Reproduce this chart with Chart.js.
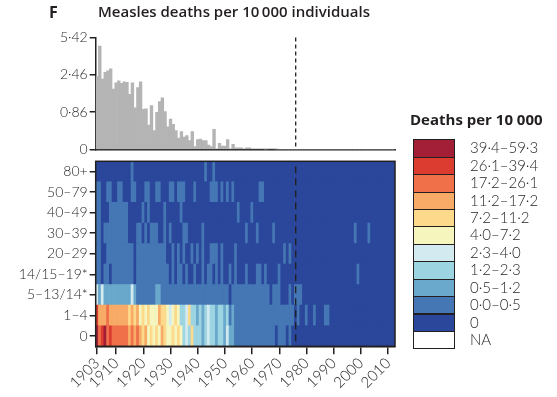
<!DOCTYPE html>
<html>
<head>
<meta charset="utf-8">
<script src="https://cdn.jsdelivr.net/npm/chart.js@4.4.0/dist/chart.umd.min.js"></script>
<style>
  body { margin: 0; width: 557px; height: 397px; background: #fff; position: relative; overflow: hidden; color: #231f20; }
  canvas { position: absolute; left: 0; }
  #top { top: 0; }
  #heat { top: 150px; }
  .panel { position: absolute; left: 49px; top: 1px; font: 700 16px "Open Sans"; }
  .title { position: absolute; left: 98px; top: 1px; font: 600 15px "Open Sans"; white-space: nowrap; }
  .ltitle { position: absolute; left: 410px; top: 109px; font: 700 15px "Open Sans"; white-space: nowrap; }
  .sw { position: absolute; left: 413px; width: 42px; height: 18.4px; box-sizing: border-box; border: 1px solid #231f20; }
  .lab { position: absolute; left: 470px; font: 300 15px Lato; line-height: 17px; white-space: nowrap; }
</style>
</head>
<body>
<canvas id="top" width="557" height="160"></canvas>
<canvas id="heat" width="557" height="247"></canvas>
<div class="panel">F</div>
<div class="title">Measles deaths per 10&#8201;000 individuals</div>
<div class="ltitle">Deaths per 10 000</div>
<div id="legend"></div>
<script>
// years 1903-2012, one column each
var years = [];
for (var y = 1903; y <= 2012; y++) years.push(String(y));
var xTickYears = [1903, 1910, 1920, 1930, 1940, 1950, 1960, 1970, 1980, 1990, 2000, 2010];
var vaccineYear = 1976;

// all ages, deaths per 10 000 (top panel)
var deathRate = [
  2.37, 4.58, 2.23, 2.60, 2.70, 2.83, 1.73, 2.03, 2.13, 2.00,
  2.08, 2.05, 1.50, 2.03, 1.00, 1.80, 2.08, 0.95, 0.97, 0.50,
  1.08, 0.37, 0.86, 1.22, 1.36, 0.88, 0.46, 0.66, 0.52, 0.37,
  0.21, 0.35, 0.23, 0.26, 0.16, 0.35, 0.05, 0.18, 0.19, 0.16,
  0.16, 0.08, 0.05, 0.40, 0.01, 0.11, 0.06, 0.06, 0.18, 0.01,
  0.09, 0.03, 0.03, 0.03, 0.01, 0.03, 0.03, 0.01, 0.01, 0.01,
  0.01, 0.01, 0.005, 0.01, 0.01, 0.01, 0.002, 0, 0, 0,
  0, 0, 0, 0, 0, 0, 0, 0, 0, 0,
  0, 0, 0, 0, 0, 0, 0, 0, 0, 0,
  0, 0, 0, 0, 0, 0, 0, 0, 0, 0,
  0, 0, 0, 0, 0, 0, 0, 0, 0, 0
];
var topTickValues = [0, 0.86, 2.46, 5.42];
var topTickLabels = ['0', '0·86', '2·46', '5·42'];

// heatmap: bin index per year (0 = zero deaths ... 10 = 39·4-59·3)
var binColors = ['#2b479b', '#4577b5', '#6aa8cc', '#9dd4e2', '#d3ebf0', '#f5f5bd',
                 '#fdd98b', '#f8ab66', '#f07149', '#dc3c30', '#a31e37'];
var binLabels = ['0', '0·0–0·5', '0·5–1·2', '1·2–2·3', '2·3–4·0', '4·0–7·2',
                 '7·2–11·2', '11·2–17·2', '17·2–26·1', '26·1–39·4', '39·4–59·3'];
var naColor = '#ffffff';

var ageLabels = ['0', '1–4', '5–13/14*', '14/15–19*', '20–29', '30–39', '40–49', '50–79', '80+'];

var age0 = [
  10, 8, 9, 10, 8, 9, 8, 8, 8, 8,   8, 8, 7, 8, 7, 8, 7, 6, 7, 5,
  6, 5, 6, 5, 7, 6, 5, 5, 6, 5,     6, 5, 3, 4, 3, 6, 3, 3, 3, 2,
  3, 4, 3, 3, 2, 3, 3, 2, 4, 2,     2, 1, 1, 1, 1, 1, 1, 1, 1, 1,
  1, 1, 1, 1, 1, 1, 0, 1, 1, 1,     0, 1, 0, 0, 0, 0, 0, 0, 0, 0,
  0, 0, 0, 0, 0, 0, 0, 0, 0, 0,     0, 0, 0, 0, 0, 0, 0, 0, 0, 0,
  0, 0, 0, 0, 0, 0, 0, 0, 0, 0
];
var age1to4 = [
  9, 7, 7, 7, 8, 7, 7, 7, 7, 7,     7, 7, 6, 7, 6, 7, 5, 6, 5, 6,
  5, 5, 5, 7, 6, 6, 5, 4, 5, 6,     5, 3, 3, 4, 6, 3, 3, 2, 3, 2,
  3, 4, 3, 3, 2, 3, 3, 2, 3, 1,     2, 1, 1, 1, 1, 1, 1, 1, 1, 1,
  1, 1, 1, 1, 1, 1, 1, 1, 1, 1,     1, 1, 1, 0, 1, 0, 0, 1, 0, 0,
  1, 0, 0, 0, 1, 1, 0, 0, 0, 0,     0, 0, 0, 0, 0, 0, 0, 0, 0, 0,
  0, 0, 0, 0, 0, 0, 0, 0, 0, 0
];
var age5to13 = [
  4, 2, 4, 2, 2, 2, 2, 2, 2, 2,     2, 2, 2, 4, 2, 1, 1, 1, 1, 1,
  1, 1, 2, 2, 1, 1, 1, 1, 1, 1,     1, 1, 1, 1, 1, 1, 1, 1, 1, 1,
  1, 1, 1, 1, 1, 1, 1, 1, 1, 0,     1, 1, 1, 1, 1, 1, 1, 1, 1, 1,
  1, 1, 1, 1, 0, 1, 1, 1, 0, 0,     0, 1, 0, 1, 1, 1, 0, 0, 0, 0,
  0, 0, 0, 0, 0, 0, 0, 0, 0, 0,     0, 0, 0, 0, 0, 0, 0, 0, 0, 0,
  0, 0, 0, 0, 0, 0, 0, 0, 0, 0
];
var age14to19 = [
  1, 1, 0, 1, 1, 0, 1, 1, 1, 1,     1, 1, 1, 1, 0, 1, 1, 1, 1, 1,
  1, 1, 1, 1, 1, 1, 1, 0, 1, 0,     1, 1, 0, 1, 0, 0, 1, 0, 0, 1,
  0, 1, 1, 0, 1, 0, 1, 0, 0, 1,     0, 1, 0, 0, 0, 1, 0, 0, 0, 1,
  1, 0, 1, 0, 0, 0, 0, 1, 0, 0,     0, 0, 0, 0, 0, 0, 0, 0, 0, 0,
  0, 0, 0, 0, 0, 0, 0, 0, 0, 0,     0, 0, 0, 0, 0, 0, 1, 0, 0, 0,
  0, 0, 0, 0, 0, 0, 0, 0, 0, 0
];
var age20to29 = [
  1, 1, 0, 0, 1, 1, 1, 1, 1, 1,     1, 1, 1, 1, 0, 1, 1, 1, 1, 1,
  1, 1, 1, 1, 1, 1, 0, 0, 1, 0,     1, 0, 1, 0, 0, 1, 0, 1, 0, 1,
  0, 0, 1, 1, 1, 0, 1, 0, 0, 0,     0, 1, 0, 0, 0, 0, 0, 0, 0, 0,
  0, 0, 0, 0, 0, 0, 0, 0, 0, 1,     0, 1, 0, 0, 0, 0, 0, 0, 0, 0,
  0, 0, 0, 0, 0, 0, 0, 0, 0, 0,     0, 0, 0, 0, 0, 0, 0, 0, 0, 0,
  0, 0, 0, 0, 0, 0, 0, 0, 0, 0
];
var age30to39 = [
  1, 1, 0, 1, 1, 1, 1, 1, 1, 1,     1, 1, 0, 0, 0, 1, 1, 0, 1, 0,
  1, 1, 1, 0, 0, 1, 0, 1, 0, 0,     0, 0, 1, 1, 0, 0, 0, 0, 0, 1,
  0, 0, 0, 0, 0, 0, 0, 0, 0, 0,     0, 0, 0, 0, 0, 1, 0, 0, 0, 1,
  0, 0, 0, 0, 0, 1, 0, 0, 0, 0,     0, 0, 0, 0, 0, 0, 0, 0, 0, 0,
  0, 0, 0, 0, 0, 0, 0, 0, 0, 0,     0, 0, 0, 0, 0, 1, 0, 0, 0, 0,
  1, 0, 0, 0, 0, 0, 0, 0, 0, 0
];
var age40to49 = [
  1, 1, 0, 0, 0, 1, 1, 1, 1, 1,     1, 1, 0, 0, 0, 0, 0, 1, 0, 1,
  0, 0, 0, 0, 0, 1, 0, 0, 0, 0,     0, 1, 0, 0, 0, 0, 0, 0, 0, 0,
  0, 0, 0, 0, 0, 0, 0, 0, 0, 0,     0, 0, 1, 0, 0, 0, 0, 1, 0, 0,
  0, 0, 0, 0, 0, 0, 0, 0, 0, 0,     0, 0, 0, 0, 0, 0, 0, 0, 0, 0,
  0, 0, 0, 0, 0, 0, 0, 0, 0, 0,     0, 0, 0, 0, 0, 0, 0, 0, 0, 0,
  0, 0, 0, 0, 0, 0, 0, 0, 0, 0
];
var age50to79 = [
  1, 1, 0, 0, 1, 1, 0, 0, 1, 1,     0, 0, 0, 1, 1, 0, 0, 0, 1, 1,
  0, 0, 1, 1, 0, 0, 0, 1, 1, 0,     1, 1, 1, 0, 0, 0, 1, 0, 0, 0,
  0, 0, 1, 1, 1, 0, 1, 0, 1, 0,     1, 0, 0, 0, 0, 0, 0, 0, 0, 0,
  1, 1, 0, 0, 0, 0, 0, 0, 0, 0,     0, 0, 0, 0, 0, 0, 0, 0, 0, 0,
  0, 0, 0, 0, 0, 0, 0, 0, 0, 0,     0, 0, 0, 0, 0, 0, 0, 0, 0, 0,
  0, 0, 0, 0, 0, 0, 0, 0, 0, 0
];
var age80plus = [
  0, 0, 0, 0, 0, 0, 0, 0, 0, 0,     0, 0, 0, 1, 0, 0, 0, 0, 0, 0,
  0, 0, 0, 0, 0, 0, 0, 0, 0, 0,     0, 0, 0, 0, 0, 0, 0, 0, 0, 0,
  1, 0, 0, 1, 0, 0, 0, 0, 0, 0,     0, 0, 0, 0, 0, 0, 0, 0, 0, 0,
  0, 0, 0, 0, 0, 0, 0, 0, 0, 0,     0, 0, 0, 0, 0, 0, 0, 0, 0, 0,
  0, 0, 0, 0, 0, 0, 0, 0, 0, 0,     0, 0, 0, 0, 0, 0, 0, 0, 0, 0,
  0, 0, 0, 0, 0, 0, 0, 0, 0, 0
];
// bottom row first
var heatRows = [age0, age1to4, age5to13, age14to19, age20to29, age30to39, age40to49, age50to79, age80plus];

Chart.defaults.font.family = 'Lato';
Chart.defaults.font.size = 14;
Chart.defaults.font.weight = 300;
Chart.defaults.color = '#231f20';

var ink = '#231f20';
var axisW = 95.7;

var dashLine = {
  id: 'dashLine',
  afterDatasetsDraw: function(chart, args, opts) {
    var ctx = chart.ctx;
    var x = chart.scales.x.getPixelForValue(years.indexOf(String(vaccineYear)));
    ctx.save();
    ctx.setLineDash(opts.dash);
    ctx.lineWidth = 1.3;
    ctx.strokeStyle = ink;
    ctx.beginPath();
    ctx.moveTo(x, chart.chartArea.top + opts.gap);
    ctx.lineTo(x, chart.chartArea.bottom);
    ctx.stroke();
    ctx.restore();
  }
};

var heatFrame = {
  id: 'heatFrame',
  beforeDatasetsDraw: function(chart) {
    var a = chart.chartArea;
    chart.ctx.fillStyle = binColors[0];
    chart.ctx.fillRect(a.left, a.top, a.right - a.left, a.bottom - a.top);
  },
  afterDraw: function(chart) {
    var a = chart.chartArea, ctx = chart.ctx;
    ctx.save();
    ctx.strokeStyle = ink;
    ctx.lineWidth = 1.5;
    ctx.strokeRect(a.left, a.top, a.right - a.left, a.bottom - a.top);
    ctx.restore();
  }
};

new Chart(document.getElementById('top'), {
  type: 'bar',
  data: {
    labels: years,
    datasets: [{
      data: deathRate.map(function(v) { return Math.log1p(v); }),
      backgroundColor: '#b4b4b4',
      borderWidth: 0,
      barPercentage: 1,
      categoryPercentage: 1
    }]
  },
  options: {
    responsive: false,
    animation: false,
    layout: { padding: { top: 37.6, bottom: 3.3, left: 0, right: 162 } },
    plugins: {
      legend: { display: false },
      tooltip: { enabled: false },
      dashLine: { dash: [4, 3], gap: 0 }
    },
    scales: {
      x: {
        ticks: { display: false },
        grid: { display: false },
        border: { color: ink, width: 1.5 },
        afterFit: function(s) { s.height = 0; }
      },
      y: {
        min: 0,
        max: Math.log1p(5.42),
        afterBuildTicks: function(s) {
          s.ticks = topTickValues.map(function(v) { return { value: Math.log1p(v) }; });
        },
        ticks: {
          padding: 2,
          callback: function(v, i) { return topTickLabels[i]; }
        },
        grid: { drawOnChartArea: false, tickLength: 6, color: ink, lineWidth: 1.5 },
        border: { color: ink, width: 1.5 },
        afterFit: function(s) { s.width = axisW; }
      }
    }
  },
  plugins: [dashLine]
});

new Chart(document.getElementById('heat'), {
  type: 'bar',
  data: {
    labels: years,
    datasets: heatRows.map(function(row) {
      return {
        data: row.map(function() { return 1; }),
        backgroundColor: row.map(function(b) { return b == null ? naColor : binColors[b]; }),
        borderWidth: 0,
        barPercentage: 1,
        categoryPercentage: 1
      };
    })
  },
  options: {
    responsive: false,
    animation: false,
    layout: { padding: { top: 11.3, bottom: 0, left: 0, right: 162 } },
    plugins: {
      legend: { display: false },
      tooltip: { enabled: false },
      dashLine: { dash: [7, 5], gap: 5 }
    },
    scales: {
      x: {
        stacked: true,
        ticks: {
          autoSkip: false,
          minRotation: 45,
          maxRotation: 45,
          padding: 0,
          font: { size: 15 },
          callback: function(v, i) {
            return xTickYears.indexOf(+years[i]) >= 0 ? years[i] : null;
          }
        },
        grid: { offset: false, drawOnChartArea: false, tickLength: 8, color: ink, lineWidth: 1.5 },
        border: { color: ink, width: 1.5 },
        afterFit: function(s) { s.height = 50.7; }
      },
      y: {
        stacked: true,
        min: 0,
        max: ageLabels.length,
        afterBuildTicks: function(s) {
          s.ticks = ageLabels.map(function(l, i) { return { value: i + 0.5 }; });
        },
        ticks: {
          padding: 2,
          callback: function(v, i) { return ageLabels[i]; }
        },
        grid: { drawOnChartArea: false, tickLength: 6, color: ink, lineWidth: 1.5 },
        border: { color: ink, width: 1.5 },
        afterFit: function(s) { s.width = axisW; }
      }
    }
  },
  plugins: [heatFrame, dashLine]
});

// legend, highest bin on top, NA last
var legend = document.getElementById('legend');
var items = binColors.map(function(c, i) { return { color: c, label: binLabels[i] }; }).reverse();
items.push({ color: naColor, label: 'NA' });
items.forEach(function(it, i) {
  var top = 139.3 + i * 17.42;
  var sw = document.createElement('div');
  sw.className = 'sw';
  sw.style.top = top + 'px';
  sw.style.background = it.color;
  legend.appendChild(sw);
  var lab = document.createElement('div');
  lab.className = 'lab';
  lab.style.top = top + 'px';
  lab.textContent = it.label;
  legend.appendChild(lab);
});
</script>
</body>
</html>
